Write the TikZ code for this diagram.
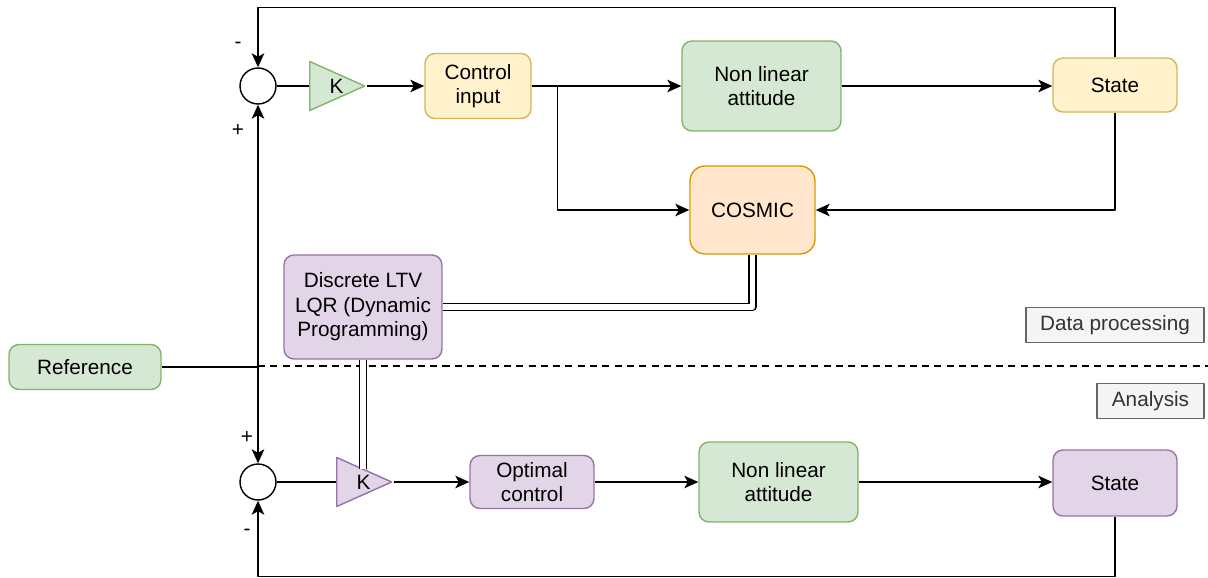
\documentclass[tikz,border=0pt]{standalone}
\usepackage{fontspec}
\setmainfont{Liberation Sans}
\usetikzlibrary{shapes.geometric,arrows.meta,positioning,calc}
\definecolor{gfill}{HTML}{D5E8D4}\definecolor{gline}{HTML}{82B366}
\definecolor{yfill}{HTML}{FFF2CC}\definecolor{yline}{HTML}{D6B656}
\definecolor{ofill}{HTML}{FFE6CC}\definecolor{oline}{HTML}{D79B00}
\definecolor{pfill}{HTML}{E1D5E7}\definecolor{pline}{HTML}{9673A6}
\definecolor{nfill}{HTML}{F5F5F5}\definecolor{nline}{HTML}{666666}
\begin{document}
\begin{tikzpicture}[x=0.02cm,y=-0.02cm,>={Stealth[length=2.8mm,width=2.5mm,inset=0.7mm]},
    line join=round,line width=0.8pt,font=\fontsize{11.8}{14}\selectfont,
    box/.style={draw,rounded corners=0.2cm,align=center,inner sep=1pt},
    green/.style={box,fill=gfill,draw=gline},
    yellow/.style={box,fill=yfill,draw=yline},
    purple/.style={box,fill=pfill,draw=pline},
    note/.style={draw=nline,fill=nfill,text=black!80,inner sep=1pt},
    sum/.style={circle,draw,fill=white,minimum size=0.72cm,inner sep=0pt},
    gain/.style={isosceles triangle,isosceles triangle stretches,draw,inner sep=0pt,
      minimum height=1.1cm,minimum width=0.98cm,anchor=west},
    dbl/.style={double,double distance=1.1mm,line width=0.75pt}]
  \useasboundingbox (0,0) rectangle (1208,578);
  % data processing
  \node[sum] (sum1) at (258,86) {};
  \node[gain,fill=gfill,draw=gline] (K1) at (309,86) {};
  \node at ($(K1.west)!0.48!(K1.east)$) {K};
  \node[yellow,minimum width=2.12cm,minimum height=1.3cm] (ctrl) at (478,86) {Control\\input};
  \node[green,minimum width=3.18cm,minimum height=1.8cm] (nla1) at (761.5,86) {Non linear\\attitude};
  \node[yellow,minimum width=2.48cm,minimum height=1.08cm] (state1) at (1115,85) {State};
  \node[box,rounded corners=0.3cm,fill=ofill,draw=oline,minimum width=2.5cm,minimum height=1.76cm] (cosmic) at (752.5,210) {COSMIC};
  \node[purple,minimum width=3.16cm,minimum height=2.08cm] (lqr) at (363,307) {Discrete LTV\\LQR (Dynamic\\Programming)};
  \node[note,minimum width=3.56cm,minimum height=0.7cm] (dp) at (1115,325) {Data processing};
  \node[note,minimum width=2.14cm,minimum height=0.7cm] (an) at (1150.5,401) {Analysis};
  \node[green,minimum width=3.04cm,minimum height=0.9cm] (ref) at (85,367) {Reference};
  % analysis
  \node[sum] (sum2) at (258,482) {};
  \node[gain,fill=pfill,draw=pline] (K2) at (336,482) {};
  \node at ($(K2.west)!0.48!(K2.east)$) {K};
  \node[purple,minimum width=2.48cm,minimum height=1.06cm] (opt) at (532,482) {Optimal\\control};
  \node[green,minimum width=3.18cm,minimum height=1.6cm] (nla2) at (778.5,482) {Non linear\\attitude};
  \node[purple,minimum width=2.48cm,minimum height=1.32cm] (state2) at (1115,483) {State};
  % signs
  \node at ([shift={(-0.4cm,0.82cm)}]sum1.center) {-};
  \node at ([shift={(-0.4cm,-0.9cm)}]sum1.center) {+};
  \node at ([shift={(-0.22cm,0.88cm)}]sum2.center) {+};
  \node at ([shift={(-0.22cm,-1.0cm)}]sum2.center) {-};

  \draw[dashed,dash pattern=on 4pt off 3pt,line width=0.6pt] (258,366) -- (1208,366);
  \coordinate (j) at (ref.east -| sum1);
  \draw (ref.east) -- (j);
  \draw[->] (j) -- (sum1.south);
  \draw[->] (j) -- (sum2.north);

  \draw (sum1.east) -- (K1.west);
  \draw[->] (K1.east) -- (ctrl.west);
  \draw[->] (ctrl.east) -- (nla1.west);
  \draw[->] (ctrl.east) -- ++(0.52cm,0) |- (cosmic.west);
  \draw[->] (nla1.east) -- (nla1.east -| state1.west);
  \draw[->] (state1.south) |- (cosmic.east);
  \draw[->] (state1.north) -- ++(0,1.0cm) -| (sum1.north);
  \draw[dbl] (cosmic.south) |- (lqr.east);
  \draw[dbl] (lqr.south) -- ($(lqr.south |- K2.center)+(0,0.26cm)$);

  \draw (sum2.east) -- (K2.west);
  \draw[->] (K2.east) -- (opt.west);
  \draw[->] (opt.east) -- (nla2.west);
  \draw[->] (nla2.east) -- (nla2.east -| state2.west);
  \draw[->] (state2.south) -- ++(0,-1.2cm) -| (sum2.south);
\end{tikzpicture}
\end{document}
